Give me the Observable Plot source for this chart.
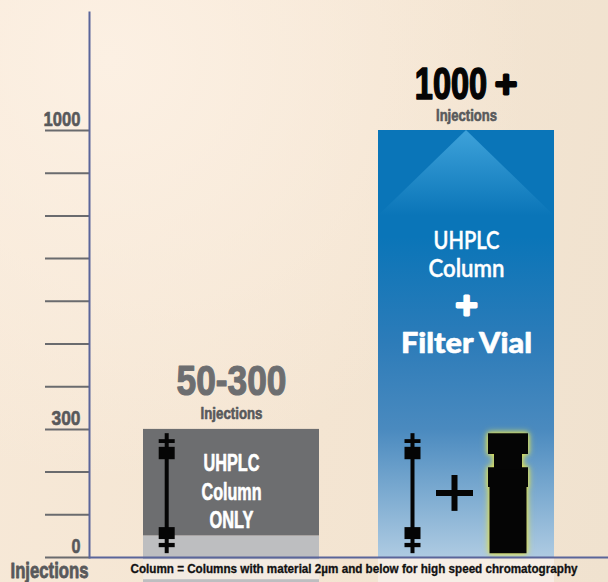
<!DOCTYPE html>
<html><head><meta charset="utf-8">
<script src="https://cdn.jsdelivr.net/npm/d3@7"></script>
<script src="https://cdn.jsdelivr.net/npm/@observablehq/plot@0.6"></script>
<style>
html,body{margin:0;padding:0;background:#f5e8d6;overflow:hidden}
svg{display:block;background:
 radial-gradient(ellipse 420px 420px at 110px 60px,#fcf0e3 0%,rgba(252,240,227,0) 100%),
 linear-gradient(100deg,#f7e9d8 0%,#f4e5d2 55%,#f0e2cf 100%)}
</style></head><body>
<script>
const categories = ["UHPLC Column ONLY", "UHPLC Column + Filter Vial"];
const lifetimeMax = [300, 1000];
const lifetimeMin = [50, 0];
const rangeLabels = ["50-300", "1000"];
const tickValues = [0,100,200,300,400,500,600,700,800,900,1000];
const labelledTicks = [0,300,1000];
const labelledTickWidths = [9,29,37];
const caption = "Column = Columns with material 2µm and below for high speed chromatography";
const sans = "'Liberation Sans',sans-serif";
const round = "Lato,'Noto Sans',sans-serif";
const [grayCat, blueCat] = categories;

const columnParts = [[9,290,4],[23,33,16],[42,70,16],[229,258,16],[267,276,16]];
const vialParts = [[9,166,37],[164,210,40],[206,243,28],[241,290,40]];
const colIcon = (cat, dx) => Plot.ruleX(columnParts.map(p=>({cat,y1:p[0],y2:p[1],w:p[2]})),
  {x:"cat",y1:"y1",y2:"y2",strokeWidth:"w",stroke:"#050505",dx});
const glow = (i,s,v,d,c,next)=>{const g=next(i,s,v,d,c);g.style.filter="drop-shadow(0 0 2px #d8dc5a) drop-shadow(0 0 3px #d8dc5a)";return g;};
const fit = w => (i,s,v,d,c,next)=>{const g=next(i,s,v,d,c);
  g.querySelectorAll("text").forEach(t=>{t.setAttribute("textLength",w);t.setAttribute("lengthAdjust","spacingAndGlyphs");});return g;};
const tall = k => (i,s,v,d,c,next)=>{const g=next(i,s,v,d,c);
  g.querySelectorAll("text").forEach(t=>{t.setAttribute("transform",(t.getAttribute("transform")||"")+` scale(1,${k})`);});return g;};
const txt = (cat,val,t,dy,w,o)=>Plot.text([t],{x:[cat],y:[val],text:[t],dy,render:fit(w),...o});
const bold = {fontFamily:sans,fontWeight:700};
const heavy = c => ({fill:c,stroke:c,strokeWidth:0.6,...bold});

const chart = Plot.plot({
  width:608,height:582,
  marginTop:12,marginBottom:25,marginLeft:89,marginRight:0,
  x:{type:"band",domain:categories,range:[143,554],paddingInner:0.253,paddingOuter:0,axis:null},
  y:{domain:[0,1000],range:[557,130],axis:null},
  marks:[
    ()=>{const ns="http://www.w3.org/2000/svg";const defs=document.createElementNS(ns,"defs");
      defs.innerHTML=`<linearGradient id="blue" x1="0" y1="0" x2="0" y2="1">
        <stop offset="0" stop-color="#0a75b8"/><stop offset="0.25" stop-color="#0a75b8"/>
        <stop offset="0.5" stop-color="#2d7cb9"/><stop offset="0.7" stop-color="#4a8abf"/>
        <stop offset="1" stop-color="#aecbe2"/></linearGradient>
        <linearGradient id="tri" x1="0" y1="0" x2="0" y2="1">
        <stop offset="0" stop-color="#3ea2da"/><stop offset="1" stop-color="#0a75b8"/></linearGradient>`;
      return defs;},
    Plot.barY([blueCat],{x:d=>d,y1:0,y2:lifetimeMax[1],fill:"url(#blue)"}),
    (index,{x,y})=>{const ns="http://www.w3.org/2000/svg";const p=document.createElementNS(ns,"path");
      const l=x(blueCat),b=x.bandwidth();
      p.setAttribute("d",`M${l},${y(800)}L${l+b/2},${y(lifetimeMax[1])}L${l+b},${y(800)}Z`);
      p.setAttribute("fill","url(#tri)");return p;},
    Plot.barY([blueCat],{x:d=>d,y1:-60,y2:0,fill:"#f6eee6"}),
    Plot.barY([grayCat],{x:d=>d,y1:lifetimeMin[0],y2:lifetimeMax[0],fill:"#6d6e70"}),
    Plot.barY([grayCat],{x:d=>d,y1:-60,y2:lifetimeMin[0],fill:"#bdbec0"}),
    Plot.barY([grayCat],{x:d=>d,y1:-52,y2:-5,fill:"#f3ebe2"}),
    colIcon(grayCat,-64.8),
    colIcon(blueCat,-54),
    Plot.ruleX([{c:blueCat,y1:108,y2:192,w:6},{c:blueCat,y1:143,y2:157,w:37}],{x:"c",y1:"y1",y2:"y2",strokeWidth:"w",stroke:"#050505",dx:-12}),
    Plot.ruleX(vialParts.map(p=>({c:blueCat,y1:p[0],y2:p[1],w:p[2]})),{x:"c",y1:"y1",y2:"y2",strokeWidth:"w",stroke:"#050505",dx:41.5,render:glow}),
    Plot.axisY({ticks:tickValues,tickSize:44,label:null,stroke:"#6a6b6e",strokeWidth:2,text:null}),
    Plot.frame({anchor:"left",stroke:"#5a659a",strokeWidth:2}),
    Plot.ruleY([0],{stroke:"#5a659a",strokeWidth:2}),
    ...labelledTicks.map((t,k)=>Plot.text([t],{y:[t],text:d=>String(d),frameAnchor:"left",textAnchor:"end",dx:-9,dy:-11,fontSize:21,render:fit(labelledTickWidths[k]),...heavy("#58595b")})),
    txt(grayCat,300,rangeLabels[0],-48,110,{fontSize:43,...heavy("#6d6e70"),strokeWidth:1.2}),
    txt(grayCat,300,"Injections",-16,62,{fontSize:16,...heavy("#58595b")}),
    txt(grayCat,300,"UHPLC",34,56,{fontSize:23,...heavy("#fff")}),
    txt(grayCat,300,"Column",63,60,{fontSize:23,...heavy("#fff")}),
    txt(grayCat,300,"ONLY",91,44,{fontSize:23,...heavy("#fff")}),
    Plot.text([rangeLabels[1]],{x:[blueCat],y:[1000],text:d=>d,dy:-46,dx:-15.5,fontSize:32.5,render:tall(1.35),...heavy("#050505"),strokeWidth:1.2}),
    Plot.text(["+"],{x:[blueCat],y:[1000],text:d=>d,dy:-46,dx:39.5,fontSize:30,fontWeight:700,fontFamily:"'DejaVu Sans'",fill:"#050505",stroke:"#050505",strokeWidth:3}),
    txt(blueCat,1000,"Injections",-15,61,{fontSize:16,...heavy("#58595b")}),
    txt(blueCat,1000,"UHPLC",110,66,{fontSize:25,fontFamily:round,fontWeight:600,fill:"#fff",stroke:"#fff",strokeWidth:0.4}),
    txt(blueCat,1000,"Column",138,76,{fontSize:25,fontFamily:round,fontWeight:600,fill:"#fff",stroke:"#fff",strokeWidth:0.4}),
    Plot.text(["+"],{x:[blueCat],y:[1000],text:d=>d,dy:175,fontSize:30,fontWeight:700,fontFamily:"'DejaVu Sans'",fill:"#fff",stroke:"#fff",strokeWidth:3}),
    txt(blueCat,1000,"Filter Vial",214,131,{fontSize:28,fontFamily:round,fontWeight:900,fill:"#fff",stroke:"#fff",strokeWidth:0.6}),
    Plot.text([caption],{y:[0],text:d=>d,frameAnchor:"left",dx:41,dy:12,textAnchor:"start",fontSize:12.4,render:fit(447),...heavy("#111"),strokeWidth:0.3}),
    Plot.text(["Injections"],{y:[0],text:d=>d,frameAnchor:"left",dx:-79,dy:13.5,textAnchor:"start",fontSize:22,render:fit(78),...heavy("#58595b"),strokeWidth:0.8})
  ]
});
document.body.appendChild(chart);
</script></body></html>
